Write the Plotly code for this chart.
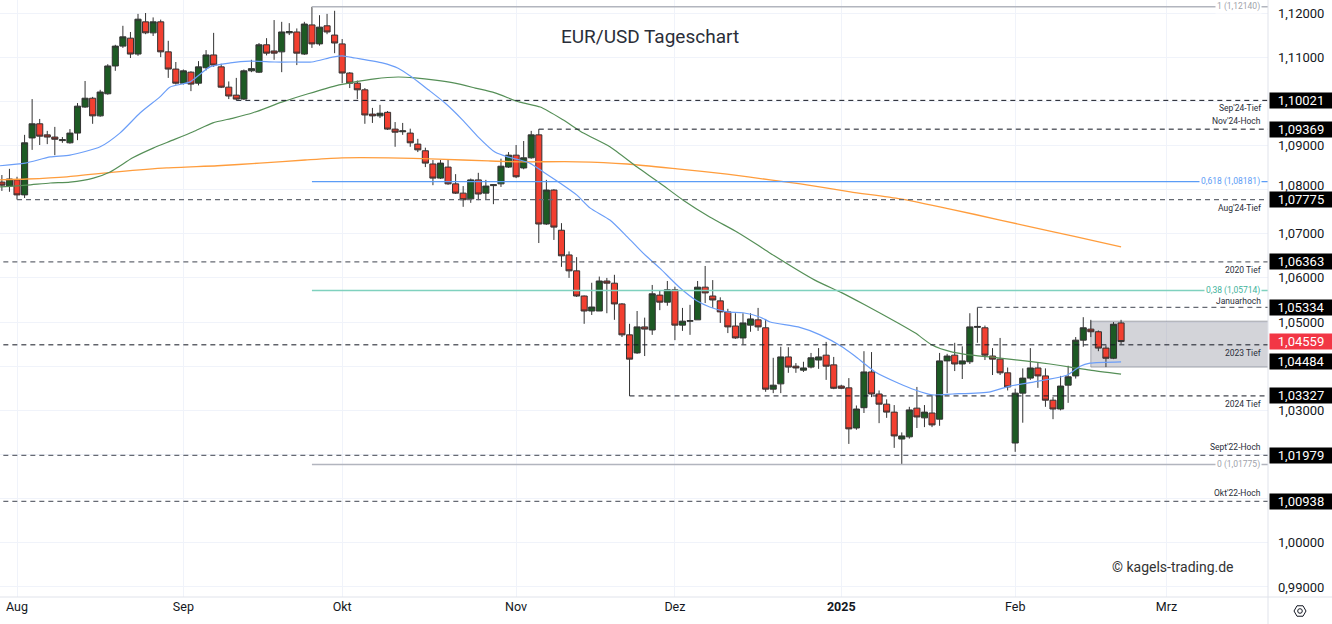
import plotly.graph_objects as go
import pandas as pd

# ---------------- data ----------------
dates = pd.bdate_range("2024-07-30", "2025-02-21")  # daily bars (weekdays)
date_labels = [d.strftime("%d.%m.%Y") for d in dates]

opens = [1.0817, 1.0808, 1.0822, 1.0788, 1.0917, 1.0949, 1.0924, 1.0919, 1.0911, 1.0906,
         1.0928, 1.0987, 1.1007, 1.0967, 1.1017, 1.1080, 1.1125, 1.1143, 1.1107, 1.1180,
         1.1155, 1.1180, 1.1112, 1.1073, 1.1041, 1.1066, 1.1041, 1.1076, 1.1105, 1.1078,
         1.1032, 1.1014, 1.1005, 1.1069, 1.1066, 1.1128, 1.1114, 1.1112, 1.1155, 1.1157,
         1.1107, 1.1173, 1.1130, 1.1171, 1.1150, 1.1130, 1.1064, 1.1041, 1.1026, 1.0971,
         1.0967, 1.0975, 1.0937, 1.0931, 1.0928, 1.0903, 1.0888, 1.0858, 1.0826, 1.0851,
         1.0813, 1.0792, 1.0779, 1.0822, 1.0792, 1.0809, 1.0813, 1.0851, 1.0878, 1.0849,
         1.0872, 1.0924, 1.0722, 1.0799, 1.0708, 1.0652, 1.0616, 1.0559, 1.0525, 1.0525,
         1.0593, 1.0588, 1.0541, 1.0471, 1.0430, 1.0489, 1.0482, 1.0561, 1.0545, 1.0573,
         1.0493, 1.0502, 1.0505, 1.0579, 1.0559, 1.0548, 1.0523, 1.0491, 1.0464, 1.0493,
         1.0505, 1.0487, 1.0348, 1.0360, 1.0421, 1.0400, 1.0391, 1.0398, 1.0414, 1.0425,
         1.0403, 1.0355, 1.0351, 1.0260, 1.0306, 1.0387, 1.0337, 1.0314, 1.0296, 1.0235,
         1.0240, 1.0305, 1.0283, 1.0294, 1.0280, 1.0412, 1.0425, 1.0405, 1.0410, 1.0488,
         1.0487, 1.0423, 1.0416, 1.0385, 1.0226, 1.0339, 1.0373, 1.0396, 1.0378, 1.0323,
         1.0303, 1.0357, 1.0378, 1.0459, 1.0484, 1.0478, 1.0441, 1.0418, 1.0498]
highs = [1.0833, 1.0847, 1.0829, 1.0924, 1.1005, 1.0960, 1.0933, 1.0942, 1.0919, 1.0937,
         1.0996, 1.1046, 1.1010, 1.1026, 1.1084, 1.1128, 1.1171, 1.1157, 1.1198, 1.1200,
         1.1190, 1.1185, 1.1137, 1.1089, 1.1072, 1.1068, 1.1091, 1.1116, 1.1155, 1.1085,
         1.1045, 1.1053, 1.1072, 1.1094, 1.1132, 1.1143, 1.1184, 1.1180, 1.1177, 1.1165,
         1.1180, 1.1214, 1.1195, 1.1198, 1.1205, 1.1141, 1.1066, 1.1047, 1.1030, 1.0985,
         1.0992, 1.0978, 1.0953, 1.0951, 1.0938, 1.0915, 1.0895, 1.0867, 1.0867, 1.0869,
         1.0835, 1.0808, 1.0825, 1.0838, 1.0822, 1.0812, 1.0870, 1.0885, 1.0901, 1.0910,
         1.0933, 1.09369, 1.0822, 1.0801, 1.0724, 1.0660, 1.0647, 1.0560, 1.0589, 1.0603,
         1.0600, 1.0607, 1.0543, 1.0496, 1.0525, 1.0510, 1.0584, 1.0571, 1.0593, 1.0580,
         1.0532, 1.0539, 1.0593, 1.0627, 1.0595, 1.0556, 1.0530, 1.0520, 1.0520, 1.0520,
         1.0532, 1.0507, 1.0419, 1.0444, 1.0443, 1.0407, 1.0410, 1.0430, 1.0441, 1.0455,
         1.0421, 1.0358, 1.0373, 1.0311, 1.0434, 1.0432, 1.0345, 1.0325, 1.0312, 1.0250,
         1.0308, 1.0353, 1.0312, 1.0335, 1.0430, 1.0428, 1.0453, 1.0445, 1.0520, 1.05334,
         1.0492, 1.0441, 1.0464, 1.0397, 1.0349, 1.0395, 1.0441, 1.0408, 1.0395, 1.0330,
         1.0378, 1.0401, 1.0466, 1.0511, 1.0505, 1.0481, 1.0447, 1.0500, 1.0505]
lows = [1.0797, 1.0795, 1.07775, 1.0781, 1.0890, 1.0901, 1.0903, 1.0878, 1.0906, 1.0904,
        1.0912, 1.0985, 1.0949, 1.0965, 1.1015, 1.1069, 1.1121, 1.1098, 1.1103, 1.1152,
        1.1148, 1.1100, 1.1053, 1.1038, 1.1038, 1.1023, 1.1036, 1.1070, 1.1078, 1.1030,
        1.1005, 1.10021, 1.1003, 1.1066, 1.1064, 1.1104, 1.1094, 1.1066, 1.1150, 1.1082,
        1.1105, 1.1121, 1.1126, 1.1152, 1.1109, 1.1041, 1.1030, 1.1005, 1.0949, 1.0951,
        1.0962, 1.0935, 1.0897, 1.0924, 1.0897, 1.0885, 1.0851, 1.0810, 1.0824, 1.0811,
        1.0790, 1.0761, 1.0770, 1.0776, 1.0778, 1.0767, 1.0806, 1.0849, 1.0826, 1.0846,
        1.0870, 1.0679, 1.0720, 1.0686, 1.0625, 1.0600, 1.0557, 1.0496, 1.0516, 1.0525,
        1.0520, 1.0505, 1.0466, 1.03327, 1.0428, 1.0423, 1.0471, 1.0527, 1.0537, 1.0459,
        1.0480, 1.0471, 1.0505, 1.0543, 1.0532, 1.0498, 1.0475, 1.0462, 1.0450, 1.0478,
        1.0480, 1.0342, 1.0339, 1.0339, 1.0385, 1.0385, 1.0387, 1.0395, 1.0394, 1.0369,
        1.0348, 1.0348, 1.0224, 1.0256, 1.0294, 1.0330, 1.0271, 1.0283, 1.0215, 1.01775,
        1.0236, 1.0260, 1.0262, 1.0262, 1.0265, 1.0339, 1.0389, 1.0371, 1.0405, 1.0453,
        1.0414, 1.0380, 1.0380, 1.0345, 1.0206, 1.0272, 1.0369, 1.0351, 1.0308, 1.0280,
        1.0300, 1.0317, 1.0372, 1.0444, 1.0466, 1.0434, 1.0398, 1.0416, 1.0450]
closes = [1.0810, 1.0824, 1.0788, 1.0906, 1.0949, 1.0921, 1.0919, 1.0914, 1.0913, 1.0928,
          1.0989, 1.1007, 1.0967, 1.1021, 1.1080, 1.1125, 1.1146, 1.1107, 1.1186, 1.1155,
          1.1180, 1.1112, 1.1073, 1.1041, 1.1069, 1.1039, 1.1078, 1.1105, 1.1082, 1.1032,
          1.1012, 1.1005, 1.1069, 1.1074, 1.1128, 1.1109, 1.1109, 1.1157, 1.1158, 1.1109,
          1.1175, 1.1130, 1.1168, 1.1157, 1.1132, 1.1064, 1.1041, 1.1026, 1.0969, 1.0967,
          1.0973, 1.0937, 1.0930, 1.0933, 1.0906, 1.0890, 1.0860, 1.0826, 1.0860, 1.0813,
          1.0792, 1.0777, 1.0822, 1.0790, 1.0808, 1.0811, 1.0853, 1.0878, 1.0829, 1.0872,
          1.0924, 1.0722, 1.0799, 1.0715, 1.0650, 1.0616, 1.0559, 1.0525, 1.0534, 1.0593,
          1.0588, 1.0541, 1.0471, 1.0416, 1.0489, 1.0484, 1.0564, 1.0545, 1.0573, 1.0493,
          1.0502, 1.0503, 1.0579, 1.0566, 1.0550, 1.0523, 1.0489, 1.0464, 1.0498, 1.0507,
          1.0489, 1.0348, 1.0357, 1.0421, 1.0398, 1.0396, 1.0396, 1.0419, 1.0421, 1.0400,
          1.0350, 1.0350, 1.0258, 1.0303, 1.0387, 1.0337, 1.0314, 1.0296, 1.0242, 1.0242,
          1.0301, 1.0285, 1.0296, 1.0267, 1.0412, 1.0423, 1.0405, 1.0412, 1.0489, 1.0490,
          1.0425, 1.0416, 1.0385, 1.0353, 1.0339, 1.0373, 1.0396, 1.0378, 1.0323, 1.0303,
          1.0355, 1.0376, 1.0459, 1.0487, 1.0478, 1.0441, 1.0418, 1.0495, 1.04559]

bar_index = list(range(len(dates)))

# moving averages (bar position, price)
ma20_x = [-0.25, 3.1, 6.4, 9.0, 13.0, 15.6, 18.3, 20.9, 22.2, 24.9, 27.5, 30.2, 32.8, 36.1,
          38.8, 41.0, 43.7, 45.0, 46.7, 50.3, 52.4, 54.2, 56.4, 58.6, 60.9, 63.0, 65.2, 66.9,
          68.5, 69.8, 71.6, 73.8, 76.0, 77.8, 80.4, 82.7, 84.8, 87.0, 89.7, 91.9, 93.6, 95.9,
          98.0, 100.3, 101.6, 105.3, 108.2, 111.1, 112.8, 115.5, 118.5, 120.8, 123.0, 125.7,
          130.7, 133.3, 136.4, 140.9, 142.6, 143.9, 148.0]
ma20_y = [1.0854, 1.0860, 1.0874, 1.0878, 1.0897, 1.0928, 1.0974, 1.1010, 1.1032, 1.1044,
          1.1078, 1.1087, 1.1091, 1.1089, 1.1089, 1.1089, 1.1100, 1.1103, 1.1098, 1.1087,
          1.1075, 1.1055, 1.1026, 1.0996, 1.0958, 1.0919, 1.0885, 1.0874, 1.0867, 1.0860,
          1.0840, 1.0815, 1.0788, 1.0758, 1.0731, 1.0693, 1.0656, 1.0622, 1.0577, 1.0548,
          1.0534, 1.0523, 1.0521, 1.0511, 1.0500, 1.0489, 1.0471, 1.0444, 1.0423, 1.0387,
          1.0362, 1.0346, 1.0335, 1.0337, 1.0342, 1.0355, 1.0364, 1.0380, 1.0400, 1.0407,
          1.0410]
ma50_x = [-0.25, 3.3, 6.4, 9.0, 12.1, 14.3, 17.3, 20.0, 22.6, 25.3, 27.9, 30.6, 33.2, 37.0,
          40.5, 44.1, 46.7, 49.3, 52.4, 54.6, 57.3, 59.9, 62.6, 65.2, 68.5, 71.2, 74.2, 76.9,
          80.4, 84.0, 87.0, 90.1, 93.6, 97.2, 99.9, 101.6, 107.5, 111.1, 114.1, 118.5, 120.8,
          123.0, 125.7, 128.3, 131.7, 135.3, 138.6, 141.3, 143.9, 148.0]
ma50_y = [1.0806, 1.0810, 1.0815, 1.0817, 1.0826, 1.0840, 1.0872, 1.0894, 1.0912, 1.0931,
          1.0951, 1.0962, 1.0974, 1.0998, 1.1017, 1.1035, 1.1044, 1.1051, 1.1055, 1.1053,
          1.1048, 1.1041, 1.1030, 1.1019, 1.0998, 1.0987, 1.0958, 1.0928, 1.0897, 1.0851,
          1.0815, 1.0776, 1.0738, 1.0704, 1.0675, 1.0656, 1.0595, 1.0566, 1.0539, 1.0498,
          1.0475, 1.0448, 1.0432, 1.0425, 1.0419, 1.0412, 1.0405, 1.0398, 1.0391, 1.0382]
ma200_x = [-0.25, 3.3, 8.6, 15.2, 21.8, 28.5, 34.1, 40.1, 45.0, 51.1, 57.7, 64.3, 68.5, 76.1,
           82.7, 89.3, 95.9, 101.6, 105.6, 112.2, 118.8, 125.4, 132.0, 138.6, 145.2, 148.0]
ma200_y = [1.0822, 1.0824, 1.0829, 1.0840, 1.0849, 1.0854, 1.0860, 1.0867, 1.0872, 1.0872,
           1.0869, 1.0865, 1.0863, 1.0863, 1.0858, 1.0847, 1.0835, 1.0822, 1.0813, 1.0795,
           1.0779, 1.0756, 1.0731, 1.0706, 1.0681, 1.0670]

# x-axis month ticks (bar positions of first trading day)
month_ticks = [2, 24, 45, 68, 89, 111, 134, 154]
month_labels = ["Aug", "Sep", "Okt", "Nov", "Dez", "<b>2025</b>", "Feb", "Mrz"]

# y-axis price ticks (labels hidden where a price box covers them)
price_ticks = [0.99, 1.00, 1.01, 1.02, 1.03, 1.04, 1.05, 1.06, 1.07, 1.08, 1.09, 1.10, 1.11, 1.12]
price_tick_text = ["0,99000", "1,00000", "", "", "1,03000", "", "1,05000", "1,06000", "1,07000",
                   "", "1,09000", "", "1,11000", "1,12000"]
# label partly squeezed above the 1,07775 box
squeezed_tick_value = 1.08
squeezed_tick_text = "1,08000"

# horizontal support / resistance levels
level_names = ["Sep'24-Tief", "Nov'24-Hoch", "Aug'24-Tief", "2020 Tief", "Januarhoch",
               "2023 Tief", "2024 Tief", "Sept'22-Hoch", "Okt'22-Hoch"]
level_values = [1.10021, 1.09369, 1.07775, 1.06363, 1.05334, 1.04484, 1.03327, 1.01979, 1.00938]
level_start = [31, 71, 2, -1, 129, -1, 83, -1, -1]
level_label_side = ["below", "above", "below", "below", "above", "below", "below", "above", "above"]
level_dark = [True, True, False, False, False, True, True, False, False]
level_box_shift = [0, 0, 0, 0, 0, -17, 0, 0, 0]

# Fibonacci retracement
fib_levels = ["1", "0,618", "0,38", "0"]
fib_values = [1.12140, 1.08181, 1.05714, 1.01775]
fib_colors = ["#b2b5be", "#5b9cf6", "#7fd1be", "#b2b5be"]
fib_text_colors = ["#a0a3ab", "#5b9cf6", "#3fb39c", "#a0a3ab"]
fib_start = 41

last_price = closes[-1]
zone_start = 144
zone_low, zone_high = 1.0398, 1.0502

# ---------------- figure ----------------
X_MIN, X_MAX = -0.25, 167.43
Y_MIN, Y_MAX = 0.987723, 1.122944
W_PLOT, H_PLOT = 1268, 597


def px(x):
    return x / W_PLOT


def py(y):
    return (H_PLOT - y) / H_PLOT


def fmt(v):
    return f"{v:.5f}".replace(".", ",")


fig = go.Figure()

fig.add_trace(go.Scatter(x=ma200_x, y=ma200_y, mode="lines", line=dict(color="#ff9d3d", width=1.3, shape="spline", smoothing=0.6),
                         hoverinfo="skip", showlegend=False))
fig.add_trace(go.Scatter(x=ma50_x, y=ma50_y, mode="lines", line=dict(color="#558f57", width=1.2, shape="spline", smoothing=0.6),
                         hoverinfo="skip", showlegend=False))
fig.add_trace(go.Scatter(x=ma20_x, y=ma20_y, mode="lines", line=dict(color="#6b9ef8", width=1.2, shape="spline", smoothing=0.6),
                         hoverinfo="skip", showlegend=False))

fig.add_trace(go.Candlestick(
    x=bar_index, open=opens, high=highs, low=lows, close=closes,
    increasing=dict(fillcolor="#1d5a24", line=dict(color="#333333", width=1)),
    decreasing=dict(fillcolor="#f23f30", line=dict(color="#333333", width=1)),
    whiskerwidth=0, hovertext=date_labels, showlegend=False))

shapes = []
# highlighted zone
shapes.append(dict(type="rect", xref="x", yref="y", x0=zone_start, x1=X_MAX + 5, y0=zone_low, y1=zone_high,
                   fillcolor="rgba(140,143,155,0.38)", line=dict(color="rgba(120,123,134,0.6)", width=1), layer="between"))

# fib lines
for val, col in zip(fib_values, fib_colors):
    shapes.append(dict(type="line", xref="x", yref="y", x0=fib_start, x1=X_MAX + 5, y0=val, y1=val,
                       line=dict(color=col, width=1.6 if col != "#5b9cf6" else 1.3), layer="above"))

# dashed level lines
for val, start, dark in zip(level_values, level_start, level_dark):
    shapes.append(dict(type="line", xref="x", yref="y", x0=max(start, X_MIN - 1), x1=X_MAX + 5, y0=val, y1=val,
                       line=dict(color="#131722" if dark else "#666a73", width=1 if dark else 1.3, dash="5px,4px"),
                       layer="above"))

# small vertical connector from candle to dashed line start
shapes.append(dict(type="line", xref="x", yref="y", x0=71, x1=71, y0=highs[71], y1=level_values[1],
                   line=dict(color="#131722", width=1), layer="above"))

# axis frame lines
shapes.append(dict(type="line", xref="paper", yref="paper", x0=1, x1=1, y0=py(624), y1=1,
                   line=dict(color="#e0e3eb", width=1)))
shapes.append(dict(type="line", xref="paper", yref="paper", x0=0, x1=px(1332), y0=0, y1=0,
                   line=dict(color="#e0e3eb", width=1)))

# settings icon (hexagon + circle)
cx, cy, r = 1300, 611, 6
hexpts = [(cx + r, cy), (cx + r / 2, cy - r * 0.87), (cx - r / 2, cy - r * 0.87), (cx - r, cy),
          (cx - r / 2, cy + r * 0.87), (cx + r / 2, cy + r * 0.87)]
path = "M " + " L ".join(f"{px(a)},{py(b)}" for a, b in hexpts) + " Z"
shapes.append(dict(type="path", xref="paper", yref="paper", path=path, line=dict(color="#131722", width=1)))
shapes.append(dict(type="circle", xref="paper", yref="paper", x0=px(cx - 2.3), x1=px(cx + 2.3),
                   y0=py(cy + 2.3), y1=py(cy - 2.3), line=dict(color="#131722", width=1)))

annotations = []
# title
annotations.append(dict(xref="paper", yref="paper", x=px(650), y=py(36), text="EUR/USD Tageschart",
                        showarrow=False, font=dict(family="Roboto", size=19, color="#2a2e39"),
                        xanchor="center", yanchor="middle"))
# watermark
annotations.append(dict(xref="paper", yref="paper", x=px(1236), y=py(567), text="© kagels-trading.de",
                        showarrow=False, font=dict(family="Roboto", size=14, color="#333333"),
                        xanchor="right", yanchor="middle"))

# squeezed axis label
annotations.append(dict(xref="paper", yref="y", x=1, y=squeezed_tick_value, text=squeezed_tick_text,
                        showarrow=False, xanchor="left", yanchor="bottom", xshift=8, yshift=-5,
                        font=dict(family="Roboto", size=13, color="#131722")))

# level labels (text) and price boxes
for name, val, side in zip(level_names, level_values, level_label_side):
    ys = -8 if side == "below" else (6 if name == "Januarhoch" else 8)
    annotations.append(dict(xref="paper", yref="y", x=px(1263), y=val, text=name, showarrow=False,
                            xanchor="right", yanchor="middle", yshift=ys,
                            font=dict(family="Roboto", size=8.5, color="#2a2e39")))
for val, shift in zip(level_values, level_box_shift):
    annotations.append(dict(xref="paper", yref="y", x=1, y=val, text=fmt(val), showarrow=False,
                            xanchor="left", yanchor="middle", xshift=1, yshift=shift, width=60, height=13,
                            bgcolor="#000000", borderpad=1, align="center",
                            font=dict(family="Roboto", size=13, color="#ffffff")))
annotations.append(dict(xref="paper", yref="y", x=1, y=last_price, text=fmt(last_price), showarrow=False,
                        xanchor="left", yanchor="middle", xshift=1, width=60, height=13,
                        bgcolor="#f23645", borderpad=1, align="center",
                        font=dict(family="Roboto", size=13, color="#ffffff")))

# fib labels
for lab, val, tcol in zip(fib_levels, fib_values, fib_text_colors):
    annotations.append(dict(xref="paper", yref="y", x=px(1262), y=val, text=f"{lab} ({fmt(val)})",
                            showarrow=False, xanchor="right", yanchor="middle", bgcolor="#ffffff", borderpad=1,
                            font=dict(family="Roboto", size=8.5, color=tcol)))

fig.update_layout(
    width=1332, height=624,
    margin=dict(l=0, r=64, t=0, b=27),
    paper_bgcolor="#ffffff", plot_bgcolor="#ffffff",
    separators=",.",
    showlegend=False,
    boxgap=0.05, boxgroupgap=0.15,
    shapes=shapes, annotations=annotations,
    xaxis=dict(range=[X_MIN, X_MAX], tickmode="array", tickvals=month_ticks, ticktext=month_labels,
               showgrid=True, gridcolor="#f0f3fa", gridwidth=1, zeroline=False, showline=False,
               ticks="", tickfont=dict(family="Roboto", size=12.5, color="#131722"),
               rangeslider=dict(visible=False), fixedrange=True),
    yaxis=dict(range=[Y_MIN, Y_MAX], side="right", tickmode="array", tickvals=price_ticks,
               ticktext=price_tick_text,
               showgrid=True, gridcolor="#f0f3fa", gridwidth=1, zeroline=False, showline=False,
               ticks="", ticklabelstandoff=9, tickfont=dict(family="Roboto", size=13, color="#131722"),
               fixedrange=True),
    hovermode="x",
)

fig.write_html("out.html")
